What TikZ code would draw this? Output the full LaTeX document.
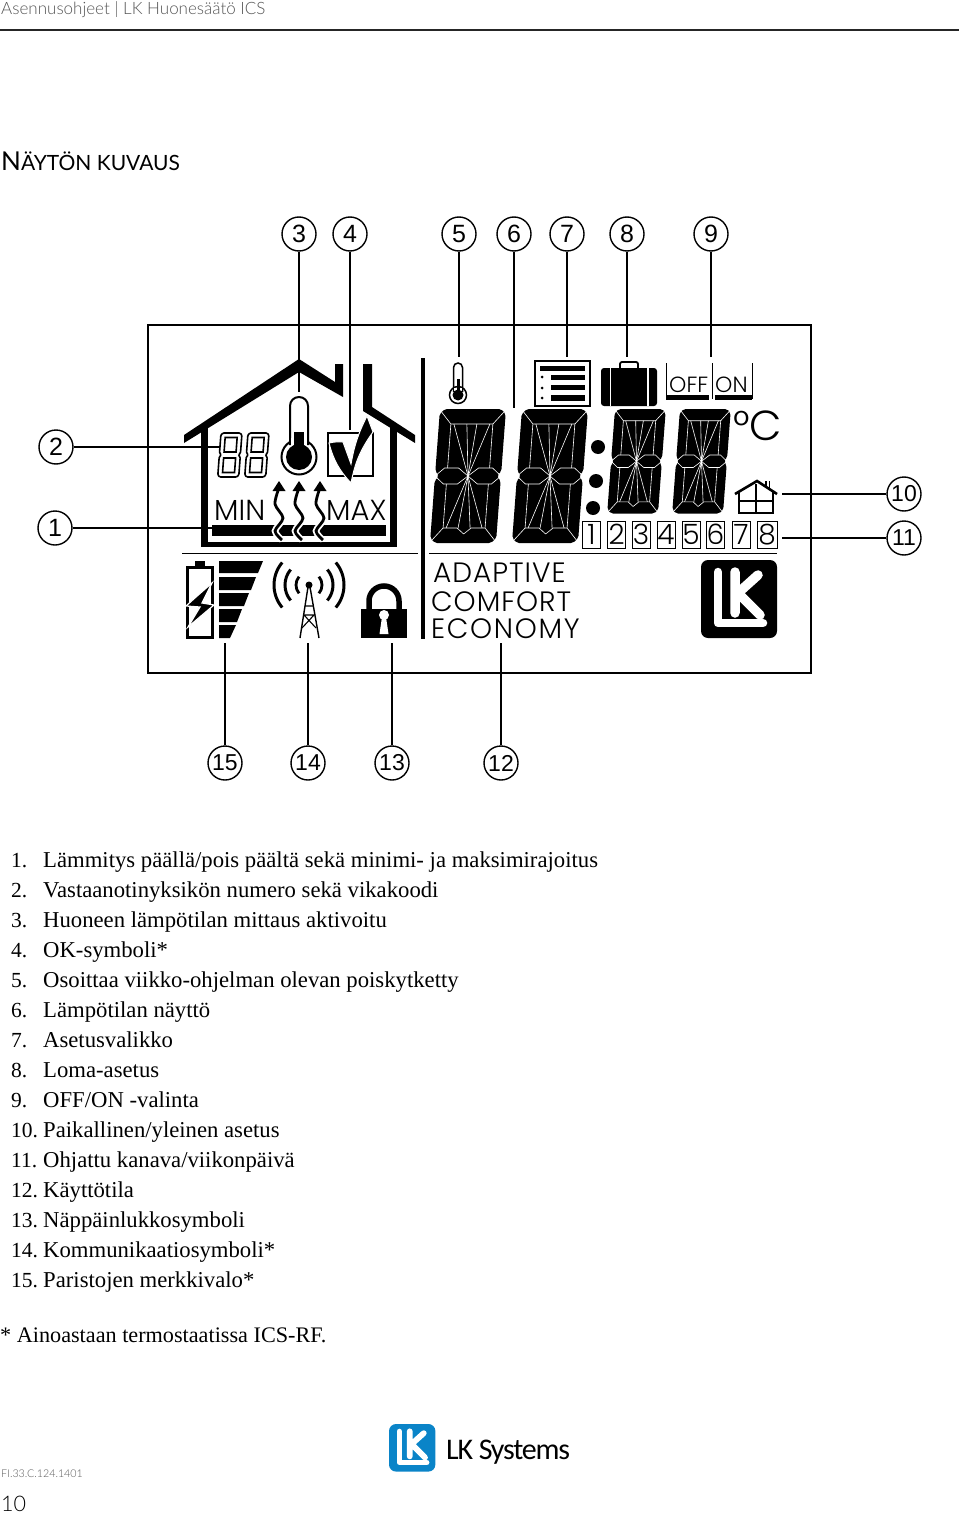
\documentclass[tikz,border=0pt]{standalone}
\usepackage{fontspec}
\setmainfont{Liberation Serif}
\newfontfamily\numfont{Liberation Sans}
\newfontfamily\lcdfont{Poppins}[UprightFont=* Light]
\newfontfamily\modefont{Poppins}[UprightFont=* Light,LetterSpace=3.5]
\newfontfamily\modewide{Poppins}[UprightFont=* Light,LetterSpace=6]
\newfontfamily\headfont{Lato}[UprightFont=* Light]
\newfontfamily\titlefont{Lato}
\newfontfamily\brandfont{Carlito}[LetterSpace=-4]
\definecolor{lkblue}{HTML}{0A84C8}
\definecolor{headgray}{HTML}{555555}
\tikzset{
  num/.style={circle,draw,line width=1.4pt,minimum size=34pt,inner sep=0pt,font=\numfont\fontsize{25}{25}\selectfont},
  numtwo/.style={num,font=\numfont\fontsize{23}{23}\selectfont},
  lead/.style={line width=1.4pt},
  seg/.style={white,line width=.6pt,line join=round},
  item/.style={anchor=base west,inner sep=0pt,font=\fontsize{22.7}{22.7}\selectfont},
  itemno/.style={anchor=base west,inner sep=0pt,font=\fontsize{21.5}{21.5}\selectfont},
  lcd/.style={anchor=base west,inner sep=0pt,font=\lcdfont\fontsize{#1}{#1}\selectfont},
  daybox/.style={draw,line width=.8pt,minimum width=18pt,minimum height=27pt,inner sep=0pt,font=\lcdfont\fontsize{28}{28}\selectfont}
}
% big display digit
\newcommand{\lcddigit}[3]{%
  \begin{scope}[shift={(#1,409)},xslant=.075,xscale=#2,yscale=#3]
    \fill[rounded corners=2pt] (5,0)--(61,0)--(66,5)--(66,62)--(62,67)--(66,72)--(66,129)--(61,134)--(5,134)--(0,129)--(0,72)--(4,67)--(0,62)--(0,5)--cycle;
    \draw[seg] (1,2)--(12,15)--(54,15)--(65,2);
    \draw[seg] (1,132)--(12,119)--(26,119)--(33,125)--(40,119)--(54,119)--(65,132);
    \draw[seg] (12,15)--(12,59) (12,75)--(12,119) (54,15)--(54,59) (54,75)--(54,119);
    \draw[seg] (0,67)--(9,59)--(23,59)--(33,67)--(23,75)--(9,75)--cycle;
    \draw[seg] (66,67)--(57,59)--(43,59)--(33,67)--(43,75)--(57,75)--cycle;
    \draw[seg] (28,15)--(33,67)--(38,15) (27,119)--(33,67)--(39,119);
    \draw[seg] (15,15)--(33,67)--(51,15) (15,119)--(33,67)--(51,119);
  \end{scope}}
% small digit in the house
\newcommand{\lcdeight}[1]{%
  \begin{scope}[shift={(#1,433)},xslant=.075,line width=1.6pt]
    \draw[rounded corners=1pt] (2,0)--(19,0)--(21,2)--(21,20)--(19,22)--(21,24)--(21,42)--(19,44)--(2,44)--(0,42)--(0,24)--(2,22)--(0,20)--(0,2)--cycle;
    \draw (4.5,4.5)--(16.5,4.5)--(16.5,19)--(4.5,19)--cycle (4.5,25)--(16.5,25)--(16.5,39.5)--(4.5,39.5)--cycle;
  \end{scope}}
% wavy heat arrow
\newcommand{\heatarrow}[1]{%
  \begin{scope}[shift={(#1,0)}]
    \draw[white,line width=6.5pt] plot[smooth] coordinates {(3,540) (-4,531) (4,518) (-4,504) (0,488)};
    \draw[line width=2.8pt] plot[smooth] coordinates {(3,540) (-4,531) (4,518) (-4,504) (0,488)};
    \fill (-6.5,491)--(0,481)--(6.5,491)--cycle;
  \end{scope}}
% firm logo
\newcommand{\lklogo}[4]{%
  \begin{scope}[shift={(#1,#2)},scale=#3]
    \fill[#4,rounded corners=7pt] (0,0) rectangle (76,78);
    \draw[white,line width=#3*8.5pt,line cap=round,line join=round] (17,12)--(17,63)--(62,63);
    \draw[white,line width=#3*9.5pt,line cap=round,line join=round] (34,12)--(34,53) (57,15)--(37,33)--(59,55);
  \end{scope}}
\begin{document}
\begin{tikzpicture}[x=1pt,y=-1pt]
  \useasboundingbox (0,0) rectangle (960,1514);
  % Header
  \node[anchor=base west,inner sep=0pt,text=headgray,font=\headfont\fontsize{17}{17}\selectfont] (head) at (1,15) {Asennusohjeet | LK Huonesäätö ICS};
  \coordinate (hl) at (0,30);
  \coordinate (hr) at (959,30);
  \draw[line width=2pt,black!85] (hl) -- (hr);
  \node[anchor=base west,inner sep=0pt,font=\titlefont\fontsize{26}{26}\selectfont] (title) at (1,171) {N{\fontsize{21}{21}\selectfont ÄYTÖN KUVAUS}};
  % Display frame
  \draw[line width=1.6pt] (148,325) rectangle (811,673);
  \fill (421,358) rectangle (425,639);
  \draw[line width=.9pt] (182,553) -- (418,553);
  \draw[line width=.9pt] (429,553) -- (777,553);
  % House
  \fill (184,435)--(299,359)--(335,382)--(335,364)--(343,364)--(343,397)--(299,372)--(184,443)--cycle;
  \fill (363,364)--(372,364)--(372,407)--(415,435)--(415,443)--(363,411)--cycle;
  \fill (201,426) rectangle (208,547);
  \fill (390,426) rectangle (397,547);
  \fill (201,542) rectangle (397,547);
  \lcdeight{221}
  \lcdeight{248}
  % Thermometer
  \draw[line width=2pt] (299,457) circle[radius=17.5];
  \draw[line width=2pt,rounded corners=8.9pt] (290,445)--(290,397)--(308,397)--(308,445);
  \fill[white] (291,438) rectangle (307,447);
  \fill (294,432) rectangle (304,450);
  \fill (299,457) circle[radius=13];
  % Check box
  \draw[line width=1.6pt] (328,433) rectangle (373,476);
  \filldraw[draw=white,line width=1pt] (329,443) to[bend left=8] (343,442) -- (351,464) to[bend left=8] (367,416) -- (373,432) to[bend right=12] (351,483) to[bend left=14] cycle;
  % Heat bar
  \fill (212,525) rectangle (386,536);
  \heatarrow{279}
  \heatarrow{299}
  \heatarrow{320}
  \node[lcd=29] (tmin) at (214,520) {MIN};
  \node[lcd=29] (tmax) at (326,520) {MAX};
  % Battery
  \draw[line width=3pt] (187.5,567) rectangle (212,637);
  \fill (195,561) rectangle (205,567);
  \filldraw[draw=white,line width=1.2pt] (212,583)--(196,597)--(186,606)--(200,607)--(188,627)--(214,605)--(202,603)--cycle;
  % Signal bars
  \fill (219,561)--(263,561)--(258,573)--(219,573)--cycle;
  \fill (219,577)--(256,577)--(251,590)--(219,590)--cycle;
  \fill (219,593)--(249,593)--(244,606)--(219,606)--cycle;
  \fill (219,609)--(242,609)--(237,622)--(219,622)--cycle;
  \fill (219,625)--(236,625)--(230,638)--(219,638)--cycle;
  % Antenna
  \draw[line width=2.8pt] (309,585) ++(140:13pt) arc[start angle=140,end angle=220,radius=13pt];
  \draw[line width=3pt] (309,585) ++(140:24pt) arc[start angle=140,end angle=220,radius=24pt];
  \draw[line width=3pt] (309,585) ++(140:35pt) arc[start angle=140,end angle=220,radius=35pt];
  \draw[line width=2.8pt] (309,585) ++(-40:13pt) arc[start angle=-40,end angle=40,radius=13pt];
  \draw[line width=3pt] (309,585) ++(-40:24pt) arc[start angle=-40,end angle=40,radius=24pt];
  \draw[line width=3pt] (309,585) ++(-40:35pt) arc[start angle=-40,end angle=40,radius=35pt];
  \fill (309,585) circle[radius=3.5];
  \draw[line width=1.4pt] (300,638)--(308,587)--(310,587)--(319,638);
  \draw[line width=1.1pt] (305,606)--(313,606) (304,615)--(314,615)--(302,628) (304,615)--(316,628);
  % Lock
  \draw[line width=5.5pt,rounded corners=15pt] (369,612)--(369,586)--(399,586)--(399,612);
  \fill (361,609) rectangle (407,638);
  \fill[white] (384,615) circle[radius=5];
  \fill[white] (382,617)--(386,617)--(388.5,634)--(379.5,634)--cycle;
  % Small thermometer
  \draw[line width=1.5pt] (458,395) circle[radius=8.5];
  \draw[line width=1.5pt,rounded corners=4.5pt] (453.5,392)--(453.5,363)--(462.5,363)--(462.5,392);
  \fill[white] (454.4,388) rectangle (461.6,392);
  \fill (456.5,379) rectangle (459.5,392);
  \fill (458,395) circle[radius=5.5];
  % Big digits
  \lcddigit{440}{1}{1}
  \lcddigit{522}{1}{1}
  \lcddigit{615}{.77}{.78}
  \lcddigit{680}{.77}{.78}
  \fill (598,447) circle[radius=7];
  \fill (596,481) circle[radius=7];
  \fill (593,508) circle[radius=7];
  % Menu list
  \draw[line width=1.6pt] (535,361) rectangle (590,406);
  \fill (540,366) rectangle (585,371);
  \fill (551,375) rectangle (585,380);
  \fill (551,385) rectangle (585,390);
  \fill (551,395) rectangle (585,401);
  \fill (542,377) circle[radius=1.5];
  \fill (542,388) circle[radius=1.5];
  \fill (542,398) circle[radius=1.5];
  % Suitcase
  \draw[line width=1.8pt,rounded corners=2pt] (620,369)--(620,362)--(638,362)--(638,369);
  \fill[rounded corners=3pt] (601,368) rectangle (657,406);
  \fill[white] (609.5,368) rectangle (611,406);
  \fill[white] (647,368) rectangle (648.5,406);
  % Off and on
  \draw[line width=.9pt] (666,363)--(666,399) (752,363)--(752,399) (712,363)--(712,399);
  \fill (666,395) rectangle (709,400);
  \fill (715,395) rectangle (752,400);
  \node[lcd=22] (toff) at (669,392) {OFF};
  \node[lcd=22] (ton) at (715,392) {ON};
  \node[lcd=42] (tc) at (733,440) {°C};
  % Small house
  \draw[line width=2.6pt] (735,494)--(757,481)--(777,494);
  \draw[line width=1.2pt] (766,481)--(766,488) (769.5,481)--(769.5,490);
  \draw[line width=2.4pt] (739,491)--(739,513)--(773,513)--(773,491);
  \draw[line width=1.6pt] (739,501)--(773,501) (756,484)--(756,513);
  % Channel boxes
  \node[daybox] (d1) at (591.5,534.5) {1};
  \node[daybox] (d2) at (616.5,534.5) {2};
  \node[daybox] (d3) at (641,534.5) {3};
  \node[daybox] (d4) at (666,534.5) {4};
  \node[daybox] (d5) at (691,534.5) {5};
  \node[daybox] (d6) at (715.5,534.5) {6};
  \node[daybox] (d7) at (741,534.5) {7};
  \node[daybox,minimum width=20pt] (d8) at (767,534.5) {8};
  % Mode texts
  \node[anchor=base west,inner sep=0pt,font=\modefont\fontsize{28}{28}\selectfont] (tadaptive) at (433,582) {ADAPTIVE};
  \node[anchor=base west,inner sep=0pt,font=\modefont\fontsize{28}{28}\selectfont] (tcomfort) at (431,611) {COMFORT};
  \node[anchor=base west,inner sep=0pt,font=\modewide\fontsize{28}{28}\selectfont] (teconomy) at (431,638) {ECONOMY};
  \lklogo{701}{560}{1}{black}
  % Nodes
  \node[num] (n1) at (55,528) {1};
  \node[num] (n2) at (56,447) {2};
  \node[num] (n3) at (299,234) {3};
  \node[num] (n4) at (350,234) {4};
  \node[num] (n5) at (459,234) {5};
  \node[num] (n6) at (514,234) {6};
  \node[num] (n7) at (567,234) {7};
  \node[num] (n8) at (627,234) {8};
  \node[num] (n9) at (711,234) {9};
  \node[numtwo] (n10) at (904,494) {10};
  \node[numtwo] (n11) at (904,538) {11};
  \node[numtwo] (n12) at (501,763) {12};
  \node[numtwo] (n13) at (392,763) {13};
  \node[numtwo] (n14) at (308,763) {14};
  \node[numtwo] (n15) at (225,763) {15};
  \coordinate (c1) at (212,528);
  \coordinate (c2) at (220,447);
  \coordinate (c3) at (299,392);
  \coordinate (c4) at (350,430);
  \coordinate (c5) at (459,357);
  \coordinate (c6) at (514,408);
  \coordinate (c7) at (567,357);
  \coordinate (c8) at (627,357);
  \coordinate (c9) at (711,357);
  \coordinate (c10) at (782,494);
  \coordinate (c11) at (782,538);
  \coordinate (c12) at (501,643);
  \coordinate (c13) at (392,643);
  \coordinate (c14) at (308,643);
  \coordinate (c15) at (225,643);
  % Edges
  \draw[lead] (n1) -- (c1);
  \draw[lead] (n2) -- (c2);
  \draw[lead] (n3) -- (c3);
  \draw[lead] (n4) -- (c4);
  \draw[lead] (n5) -- (c5);
  \draw[lead] (n6) -- (c6);
  \draw[lead] (n7) -- (c7);
  \draw[lead] (n8) -- (c8);
  \draw[lead] (n9) -- (c9);
  \draw[lead] (n10) -- (c10);
  \draw[lead] (n11) -- (c11);
  \draw[lead] (n12) -- (c12);
  \draw[lead] (n13) -- (c13);
  \draw[lead] (n14) -- (c14);
  \draw[lead] (n15) -- (c15);
  % List
  \node[itemno] (i1) at (11,867) {1.};
  \node[item] (t1) at (43,867) {Lämmitys päällä/pois päältä sekä minimi- ja maksimirajoitus};
  \node[itemno] (i2) at (11,897) {2.};
  \node[item] (t2) at (43,897) {Vastaanotinyksikön numero sekä vikakoodi};
  \node[itemno] (i3) at (11,927) {3.};
  \node[item] (t3) at (43,927) {Huoneen lämpötilan mittaus aktivoitu};
  \node[itemno] (i4) at (11,957) {4.};
  \node[item] (t4) at (43,957) {OK-symboli*};
  \node[itemno] (i5) at (11,987) {5.};
  \node[item] (t5) at (43,987) {Osoittaa viikko-ohjelman olevan poiskytketty};
  \node[itemno] (i6) at (11,1017) {6.};
  \node[item] (t6) at (43,1017) {Lämpötilan näyttö};
  \node[itemno] (i7) at (11,1047) {7.};
  \node[item] (t7) at (43,1047) {Asetusvalikko};
  \node[itemno] (i8) at (11,1077) {8.};
  \node[item] (t8) at (43,1077) {Loma-asetus};
  \node[itemno] (i9) at (11,1107) {9.};
  \node[item] (t9) at (43,1107) {OFF/ON -valinta};
  \node[itemno] (i10) at (11,1137) {10.};
  \node[item] (t10) at (43,1137) {Paikallinen/yleinen asetus};
  \node[itemno] (i11) at (11,1167) {11.};
  \node[item] (t11) at (43,1167) {Ohjattu kanava/viikonpäivä};
  \node[itemno] (i12) at (11,1197) {12.};
  \node[item] (t12) at (43,1197) {Käyttötila};
  \node[itemno] (i13) at (11,1227) {13.};
  \node[item] (t13) at (43,1227) {Näppäinlukkosymboli};
  \node[itemno] (i14) at (11,1257) {14.};
  \node[item] (t14) at (43,1257) {Kommunikaatiosymboli*};
  \node[itemno] (i15) at (11,1287) {15.};
  \node[item] (t15) at (43,1287) {Paristojen merkkivalo*};
  \node[item,font=\fontsize{22.2}{22.2}\selectfont] (note) at (0,1342) {* Ainoastaan termostaatissa ICS-RF.};
  % Footer
  \lklogo{389}{1424}{.61}{lkblue}
  \node[anchor=base west,inner sep=0pt,font=\brandfont\fontsize{30}{30}\selectfont] (brand) at (446,1459) {LK Systems};
  \node[anchor=base west,inner sep=0pt,text=headgray,font=\headfont\fontsize{10.7}{10.7}\selectfont] (code) at (1,1477) {FI.33.C.124.1401};
  \node[anchor=base west,inner sep=0pt,font=\headfont\fontsize{21.5}{21.5}\selectfont] (page) at (1,1511) {10};
\end{tikzpicture}
\end{document}
